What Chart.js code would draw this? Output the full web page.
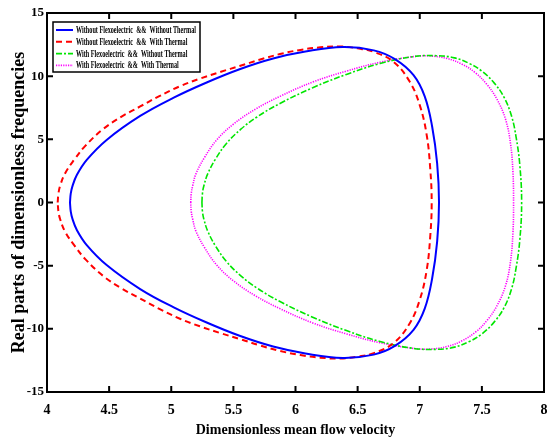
<!DOCTYPE html>
<html>
<head>
<meta charset="utf-8">
<title>Real parts of dimensionless frequencies</title>
<script src="https://cdn.jsdelivr.net/npm/chart.js@4.4.0/dist/chart.umd.min.js"></script>
<style>
  html, body { margin: 0; padding: 0; background: #fff; }
</style>
</head>
<body>
<canvas id="freqChart" width="548" height="440"></canvas>
<script>
// Each loop: [mean flow velocity, real part of frequency]
const noFlexoNoThermal = [
  [4.185, 0], [4.191, 0.7], [4.205, 1.3], [4.241, 2.19], [4.32, 3.37], [4.48, 4.95], [4.75, 6.85],
  [5.02, 8.3], [5.285, 9.5], [5.55, 10.55], [5.82, 11.4], [6.08, 11.95], [6.38, 12.3],
  [6.63, 12.04], [6.8, 11.35], [6.95, 10.08], [7.04, 8.4], [7.1, 6.0], [7.14, 3.1], [7.155, 0],
  [7.14, -3.1], [7.1, -6.0], [7.04, -8.4], [6.95, -10.08], [6.8, -11.35], [6.63, -12.04],
  [6.38, -12.3], [6.08, -11.95], [5.82, -11.4], [5.55, -10.55], [5.285, -9.5], [5.02, -8.3],
  [4.75, -6.85], [4.48, -4.95], [4.32, -3.37], [4.241, -2.19], [4.205, -1.3], [4.191, -0.7], [4.185, 0]
];
const noFlexoThermal = [
  [4.086, 0], [4.092, 0.7], [4.105, 1.3], [4.145, 2.3], [4.22, 3.4], [4.31, 4.5], [4.45, 5.8],
  [4.6, 6.8], [4.75, 7.6], [4.9, 8.4], [5.07, 9.2], [5.23, 9.8], [5.4, 10.35], [5.55, 10.8],
  [5.71, 11.3], [5.875, 11.75], [6.04, 12.08], [6.2, 12.28], [6.36, 12.35], [6.5, 12.2],
  [6.63, 11.92], [6.79, 11.13], [6.92, 9.55], [7.0, 7.71], [7.056, 5.34], [7.085, 2.6], [7.096, 0],
  [7.085, -2.6], [7.056, -5.34], [7.0, -7.71], [6.92, -9.55], [6.79, -11.13], [6.63, -11.92],
  [6.5, -12.2], [6.36, -12.35], [6.2, -12.28], [6.04, -12.08], [5.875, -11.75], [5.71, -11.3],
  [5.55, -10.8], [5.4, -10.35], [5.23, -9.8], [5.07, -9.2], [4.9, -8.4], [4.75, -7.6], [4.6, -6.8],
  [4.45, -5.8], [4.31, -4.5], [4.22, -3.4], [4.145, -2.3], [4.105, -1.3], [4.092, -0.7], [4.086, 0]
];
const flexoNoThermal = [
  [5.247, 0], [5.251, 0.7], [5.262, 1.3], [5.295, 2.3], [5.36, 3.5], [5.446, 4.69], [5.56, 5.8],
  [5.69, 6.77], [5.875, 7.84], [6.143, 9.1], [6.41, 10.14], [6.68, 11.0], [6.95, 11.55],
  [7.136, 11.62], [7.28, 11.45], [7.4, 11.0], [7.5, 10.4], [7.6, 9.45], [7.68, 8.3],
  [7.74, 6.8], [7.775, 5.2], [7.805, 3.0], [7.82, 0],
  [7.805, -3.0], [7.775, -5.2], [7.74, -6.8], [7.68, -8.3], [7.6, -9.45], [7.5, -10.4],
  [7.4, -11.0], [7.28, -11.45], [7.136, -11.62], [6.95, -11.55], [6.68, -11.0], [6.41, -10.14],
  [6.143, -9.1], [5.875, -7.84], [5.69, -6.77], [5.56, -5.8], [5.446, -4.69], [5.36, -3.5],
  [5.295, -2.3], [5.262, -1.3], [5.251, -0.7], [5.247, 0]
];
const flexoThermal = [
  [5.157, 0], [5.161, 0.7], [5.172, 1.3], [5.2, 2.3], [5.27, 3.6], [5.366, 4.95], [5.5, 6.2],
  [5.68, 7.4], [5.875, 8.4], [6.143, 9.55], [6.41, 10.4], [6.68, 11.1], [6.95, 11.55],
  [7.08, 11.6], [7.22, 11.4], [7.34, 10.95], [7.45, 10.25], [7.54, 9.35], [7.62, 8.2],
  [7.69, 6.6], [7.73, 4.7], [7.75, 2.4], [7.755, 0],
  [7.75, -2.4], [7.73, -4.7], [7.69, -6.6], [7.62, -8.2], [7.54, -9.35], [7.45, -10.25],
  [7.34, -10.95], [7.22, -11.4], [7.08, -11.6], [6.95, -11.55], [6.68, -11.1], [6.41, -10.4],
  [6.143, -9.55], [5.875, -8.4], [5.68, -7.4], [5.5, -6.2], [5.366, -4.95], [5.27, -3.6],
  [5.2, -2.3], [5.172, -1.3], [5.161, -0.7], [5.157, 0]
];

const seriesLabels = [
  'Without Flexoelectric  &&  Without Thermal',
  'Without Flexoelectric  &&  With Thermal',
  'With Flexoelectric  &&  Without Thermal',
  'With Flexoelectric  &&  With Thermal'
];
const xTicks = [4, 4.5, 5, 5.5, 6, 6.5, 7, 7.5, 8];
const yTicks = [-15, -10, -5, 0, 5, 10, 15];

const serif = 'Liberation Serif, Times New Roman, serif';

// Box around the plot with MATLAB style inward ticks
const framePlugin = {
  id: 'frame',
  afterDatasetsDraw(chart) {
    const { ctx, chartArea: a, scales: { x, y } } = chart;
    const len = 6;
    ctx.save();
    ctx.strokeStyle = '#000';
    ctx.lineWidth = 2;
    ctx.beginPath();
    xTicks.forEach(v => {
      const px = x.getPixelForValue(v);
      ctx.moveTo(px, a.bottom); ctx.lineTo(px, a.bottom - len);
      ctx.moveTo(px, a.top); ctx.lineTo(px, a.top + len);
    });
    yTicks.forEach(v => {
      const py = y.getPixelForValue(v);
      ctx.moveTo(a.left, py); ctx.lineTo(a.left + len, py);
      ctx.moveTo(a.right, py); ctx.lineTo(a.right - len, py);
    });
    ctx.stroke();
    ctx.strokeRect(a.left, a.top, a.right - a.left, a.bottom - a.top);
    ctx.restore();
  }
};

// Boxed legend in the upper left corner, text squeezed like the original
const boxLegendPlugin = {
  id: 'boxLegend',
  afterDraw(chart) {
    const { ctx, chartArea: a } = chart;
    const left = a.left + 6, top = a.top + 9, w = 147, h = 50;
    ctx.save();
    ctx.fillStyle = '#fff';
    ctx.fillRect(left, top, w, h);
    ctx.strokeStyle = '#000';
    ctx.lineWidth = 1.5;
    ctx.strokeRect(left, top, w, h);

    ctx.font = 'bold 10px ' + serif;
    const squeeze = 120 / ctx.measureText(seriesLabels[0]).width;
    chart.data.datasets.forEach((ds, i) => {
      const yy = top + 8 + i * 11.8;
      ctx.strokeStyle = ds.borderColor;
      ctx.lineWidth = ds.borderWidth;
      ctx.setLineDash(ds.borderDash || []);
      ctx.beginPath();
      ctx.moveTo(left + 3, yy);
      ctx.lineTo(left + 20, yy);
      ctx.stroke();
      ctx.setLineDash([]);
      ctx.save();
      ctx.translate(left + 23, yy);
      ctx.scale(squeeze, 1);
      ctx.fillStyle = '#000';
      ctx.textBaseline = 'middle';
      ctx.fillText(ds.label, 0, 0.5);
      ctx.restore();
    });
    ctx.restore();
  }
};

const makeSet = (label, data, color, width, dash) => ({
  label: label,
  data: data,
  showLine: true,
  borderColor: color,
  backgroundColor: color,
  borderWidth: width,
  borderDash: dash,
  tension: 0.4,
  pointRadius: 0,
  fill: false
});

new Chart(document.getElementById('freqChart'), {
  type: 'scatter',
  data: {
    datasets: [
      makeSet(seriesLabels[0], noFlexoNoThermal, '#0000ff', 2, []),
      makeSet(seriesLabels[1], noFlexoThermal, '#ff0000', 2, [6, 4]),
      makeSet(seriesLabels[2], flexoNoThermal, '#00e600', 1.6, [6, 2, 2, 2]),
      makeSet(seriesLabels[3], flexoThermal, '#ff00ff', 1.6, [1.2, 1.2])
    ]
  },
  options: {
    responsive: false,
    animation: false,
    layout: { padding: { top: 13, right: 4, left: 0, bottom: 0 } },
    plugins: {
      legend: { display: false },
      tooltip: { enabled: false }
    },
    scales: {
      x: {
        type: 'linear',
        min: 4,
        max: 8,
        afterBuildTicks: s => { s.ticks = xTicks.map(v => ({ value: v })); },
        afterFit: s => { s.height = 48; s.paddingLeft = 0; s.paddingRight = 0; },
        grid: { display: false, drawTicks: false },
        border: { display: false },
        ticks: {
          color: '#000',
          padding: 10,
          maxRotation: 0,
          autoSkip: false,
          font: { family: serif, weight: 'bold', size: 14 },
          callback: v => String(v)
        },
        title: {
          display: true,
          text: 'Dimensionless mean flow velocity',
          color: '#000',
          font: { family: serif, weight: 'bold', size: 14 },
          padding: { top: 0, bottom: 1 }
        }
      },
      y: {
        type: 'linear',
        min: -15,
        max: 15,
        afterBuildTicks: s => { s.ticks = yTicks.map(v => ({ value: v })); },
        afterFit: s => { s.width = 47; s.paddingTop = 0; s.paddingBottom = 0; },
        grid: { display: false, drawTicks: false },
        border: { display: false },
        ticks: {
          color: '#000',
          padding: 3,
          autoSkip: false,
          font: { family: serif, weight: 'bold', size: 13 },
          callback: v => String(v)
        },
        title: {
          display: true,
          text: 'Real parts of dimensionless frequencies',
          color: '#000',
          font: { family: serif, weight: 'bold', size: 18 },
          padding: { top: 9, bottom: 0 }
        }
      }
    }
  },
  plugins: [framePlugin, boxLegendPlugin]
});
</script>
</body>
</html>
